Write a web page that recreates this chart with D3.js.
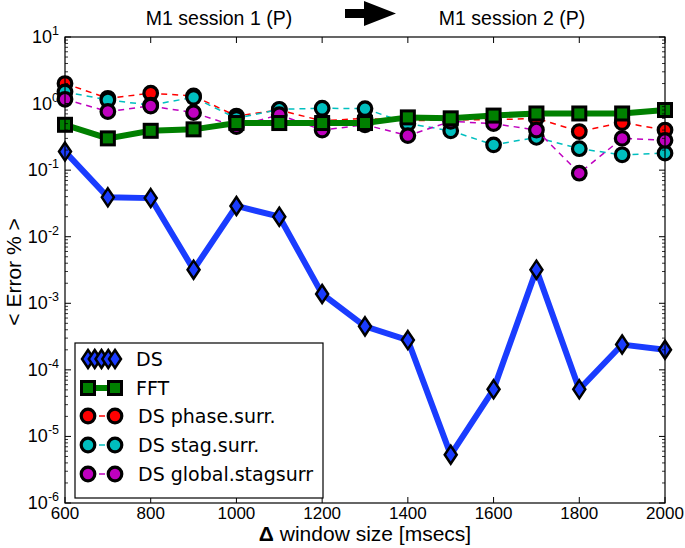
<!DOCTYPE html>
<html><head><meta charset="utf-8">
<script src="https://cdn.jsdelivr.net/npm/d3@7"></script>
<style>html,body{margin:0;padding:0;background:#fff;}</style>
</head><body>
<svg id="c" width="685" height="548"></svg>
<script>
const windowSizes = [600,700,800,900,1000,1100,1200,1300,1400,1500,1600,1700,1800,1900,2000];
const dsValues = [0.19,0.039,0.038,0.0032,0.029,0.020,0.00138,0.00045,0.00028,0.0000053,0.000051,0.0032,0.000051,0.00024,0.00020];
const fftValues = [0.48,0.30,0.39,0.41,0.51,0.51,0.51,0.51,0.62,0.60,0.66,0.71,0.71,0.71,0.80];
const phaseSurr = [2.0,1.2,1.43,1.3,0.65,0.80,0.55,0.60,0.55,0.57,0.57,0.60,0.38,0.52,0.40];
const stagSurr = [1.5,1.13,0.95,1.24,0.60,0.82,0.85,0.84,0.50,0.39,0.24,0.31,0.21,0.17,0.18];
const globalStagSurr = [1.16,0.76,0.92,0.73,0.45,0.68,0.40,0.48,0.33,0.54,0.50,0.40,0.09,0.30,0.28];
const xTicks = [600,800,1000,1200,1400,1600,1800,2000];
const yExponents = [1,0,-1,-2,-3,-4,-5,-6];
const legendLabels = ["DS","FFT","DS phase.surr.","DS stag.surr.","DS global.stagsurr"];
const titleLeft = "M1 session 1 (P)";
const titleRight = "M1 session 2 (P)";

const svg = d3.select("#c");
const L = 65, R = 665, T = 37, B = 503;
const x = d3.scaleLinear().domain([600,2000]).range([L,R]);
const y = d3.scaleLog().domain([1e-6,10]).range([B,T]);

const g = svg.append("g");
const sans = "'Liberation Sans', Arial, sans-serif";
const dj = "'DejaVu Sans', sans-serif";

function dashed(vals, color){
  const line = d3.line().x((d,i)=>x(windowSizes[i])).y(d=>y(d));
  g.append("path").attr("d", line(vals)).attr("fill","none")
    .attr("stroke", color).attr("stroke-width",1.5).attr("stroke-dasharray","6,5");
  g.selectAll(null).data(vals).enter().append("circle")
    .attr("cx",(d,i)=>x(windowSizes[i])).attr("cy",d=>y(d)).attr("r",6.8)
    .attr("fill",color).attr("stroke","#000").attr("stroke-width",3.2);
}
const cRed="#ff0000", cCyan="#00bfbf", cMag="#bf00bf", cGreen="#008000", cBlue="#1a3cff";

svg.append("clipPath").attr("id","clip").append("rect").attr("x",L-12).attr("y",T).attr("width",R-L+24).attr("height",B-T);
g.attr("clip-path","url(#clip)");

dashed(phaseSurr, cRed);
dashed(stagSurr, cCyan);
dashed(globalStagSurr, cMag);

const lineF = d3.line().x((d,i)=>x(windowSizes[i])).y(d=>y(d));
g.append("path").attr("d", lineF(fftValues)).attr("fill","none").attr("stroke",cGreen).attr("stroke-width",6);
g.selectAll(null).data(fftValues).enter().append("rect")
  .attr("x",(d,i)=>x(windowSizes[i])-6.5).attr("y",d=>y(d)-6.5).attr("width",13).attr("height",13)
  .attr("fill",cGreen).attr("stroke","#000").attr("stroke-width",3);

g.append("path").attr("d", lineF(dsValues)).attr("fill","none").attr("stroke",cBlue).attr("stroke-width",6).attr("stroke-linejoin","miter");
const diamond = (cx,cy)=>`M${cx},${cy-9}L${cx+6},${cy}L${cx},${cy+9}L${cx-6},${cy}Z`;
g.selectAll(null).data(dsValues).enter().append("path")
  .attr("d",(d,i)=>diamond(x(windowSizes[i]), y(d)))
  .attr("fill",cBlue).attr("stroke","#000").attr("stroke-width",2.5).attr("stroke-linejoin","miter");

svg.append("rect").attr("x",L).attr("y",T).attr("width",R-L).attr("height",B-T)
  .attr("fill","none").attr("stroke","#000").attr("stroke-width",1.2);

const ax = svg.append("g");
xTicks.forEach(t=>{
  const px = x(t);
  ax.append("line").attr("x1",px).attr("x2",px).attr("y1",B).attr("y2",B-6).attr("stroke","#000");
  ax.append("line").attr("x1",px).attr("x2",px).attr("y1",T).attr("y2",T+6).attr("stroke","#000");
  ax.append("text").attr("x",px).attr("y",B+16).attr("text-anchor","middle")
    .attr("font-family",sans).attr("font-size",17).text(d3.format("d")(t));
});
yExponents.forEach(e=>{
  const py = y(Math.pow(10,e));
  ax.append("line").attr("x1",L).attr("x2",L+6).attr("y1",py).attr("y2",py).attr("stroke","#000");
  ax.append("line").attr("x1",R).attr("x2",R-6).attr("y1",py).attr("y2",py).attr("stroke","#000");
  const t = ax.append("text").attr("x",L-6).attr("y",py+6).attr("text-anchor","end")
    .attr("font-family",sans).attr("font-size",18);
  t.append("tspan").text("10");
  t.append("tspan").attr("dy",-8).attr("font-size",12.5).text(String(e));
  if (e > -6) {
    for (let m=2;m<=9;m++){
      const pm = y(m*Math.pow(10,e-1));
      ax.append("line").attr("x1",L).attr("x2",L+3).attr("y1",pm).attr("y2",pm).attr("stroke","#000").attr("stroke-width",0.8);
      ax.append("line").attr("x1",R).attr("x2",R-3).attr("y1",pm).attr("y2",pm).attr("stroke","#000").attr("stroke-width",0.8);
    }
  }
});

const xl = svg.append("text").attr("x",(L+R)/2).attr("y",541).attr("text-anchor","middle")
  .attr("font-family",sans).attr("font-size",21);
xl.append("tspan").attr("font-weight","bold").text("Δ");
xl.append("tspan").text(" window size [msecs]");
svg.append("text").attr("transform","translate(21,272) rotate(-90)").attr("text-anchor","middle")
  .attr("font-family",sans).attr("font-size",21).text("< Error % >");

svg.append("text").attr("x",219).attr("y",25).attr("text-anchor","middle").attr("font-family",sans).attr("font-size",19.5).text(titleLeft);
svg.append("text").attr("x",512).attr("y",25).attr("text-anchor","middle").attr("font-family",sans).attr("font-size",19.5).text(titleRight);
svg.append("path").attr("d","M345,9L364,9L364,1L396,13.5L364,26L364,18L345,18Z").attr("fill","#000");

const lg = svg.append("g");
lg.append("rect").attr("x",75).attr("y",343).attr("width",248).attr("height",155)
  .attr("fill","#fff").attr("stroke","#000").attr("stroke-width",1.2);
const ly = [359,388,416,445,474];
const lx1 = 88, lx2 = 115;
[0,1,2,3,4].forEach(k=>{
  const cx = lx1 + k*(lx2-lx1)/4;
  lg.append("path").attr("d",diamond(cx,ly[0])).attr("fill",cBlue).attr("stroke","#000").attr("stroke-width",2.5);
});
lg.append("line").attr("x1",lx1).attr("x2",lx2).attr("y1",ly[1]).attr("y2",ly[1]).attr("stroke",cGreen).attr("stroke-width",6);
[lx1,lx2].forEach(cx=>lg.append("rect").attr("x",cx-6.5).attr("y",ly[1]-6.5).attr("width",13).attr("height",13)
  .attr("fill",cGreen).attr("stroke","#000").attr("stroke-width",3));
[[cRed,2],[cCyan,3],[cMag,4]].forEach(([col,k])=>{
  lg.append("line").attr("x1",lx1).attr("x2",lx2).attr("y1",ly[k]).attr("y2",ly[k]).attr("stroke",col).attr("stroke-width",1.5).attr("stroke-dasharray","6,5");
  [lx1,lx2].forEach(cx=>lg.append("circle").attr("cx",cx).attr("cy",ly[k]).attr("r",6.8)
    .attr("fill",col).attr("stroke","#000").attr("stroke-width",3.2));
});
legendLabels.forEach((s,k)=>{
  lg.append("text").attr("x", k<2 ? 136 : 138).attr("y",ly[k]+7).attr("font-family",dj).attr("font-size",19).text(s);
});
</script>
</body></html>
